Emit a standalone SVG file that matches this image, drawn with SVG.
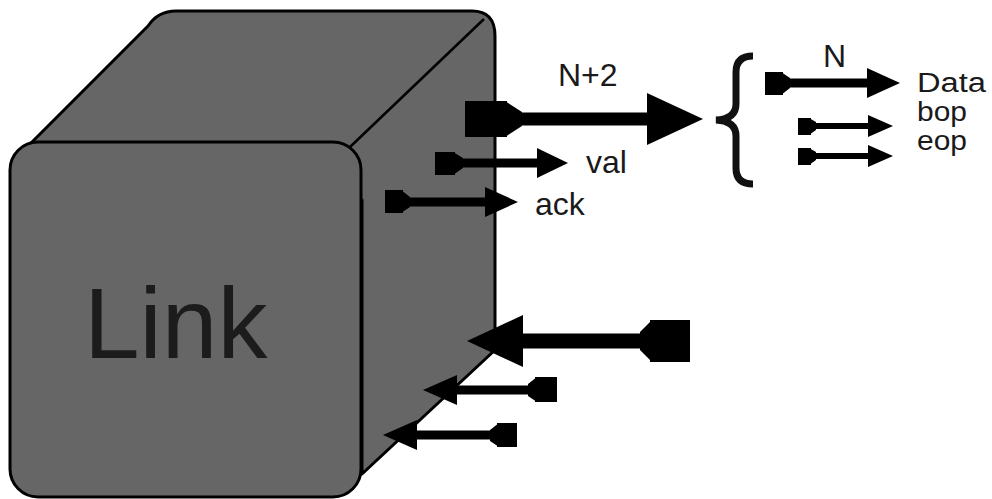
<svg xmlns="http://www.w3.org/2000/svg" width="992" height="499" viewBox="0 0 992 499">
<style>
.body{fill:#666666;stroke:#000;stroke-width:3;stroke-linejoin:round}
.edge{fill:none;stroke:#000;stroke-width:2.5}
.ink{fill:#000}
.wire{stroke:#000;fill:none}
.lbl{font-family:"Liberation Sans",Arial,sans-serif;font-size:32px;fill:#1a1a1a}
.sm{font-size:27px}
.big{font-family:"Liberation Sans",Arial,sans-serif;font-size:100px;fill:#1c1c1c}
</style>
<rect width="992" height="499" fill="#fff"/>
<g id="link">
<path class="body" d="M 24,150 L 148,26 Q 158,11 176,11 L 472,11 Q 495,11 495,36 L 495,350 L 362,474 L 362,200 Z"/>
<line class="edge" x1="350" y1="147" x2="484" y2="19"/>
<rect class="body" x="10" y="142" width="351" height="355" rx="28" ry="28"/>
<text class="big" x="84" y="358">Link</text>
</g>
<g id="connectors">
<g id="bus-out">
<rect class="ink" x="465" y="101" width="42" height="36"/>
<polygon class="ink" points="505,101 522,112 522,126 505,137"/>
<line class="wire" x1="520" y1="119" x2="650" y2="119" stroke-width="13"/>
<polygon class="ink" points="647,93 703,119 647,145"/>
</g>
<g id="val">
<rect class="ink" x="435" y="152" width="20" height="23"/>
<polygon class="ink" points="453,152 463,158 463,168 453,175"/>
<line class="wire" x1="460" y1="163" x2="540" y2="163" stroke-width="9"/>
<polygon class="ink" points="537,148 568,163 537,178"/>
</g>
<g id="ack">
<rect class="ink" x="385" y="190" width="18" height="23"/>
<polygon class="ink" points="401,190 410,197 410,207 401,213"/>
<line class="wire" x1="408" y1="202" x2="488" y2="202" stroke-width="9"/>
<polygon class="ink" points="485,187 518,202 485,217"/>
</g>
<g id="bus-in">
<rect class="ink" x="650" y="320" width="40" height="42"/>
<polygon class="ink" points="652,320 640,332 640,350 652,362"/>
<line class="wire" x1="520" y1="341" x2="645" y2="341" stroke-width="15"/>
<polygon class="ink" points="523,315 467,341 523,367"/>
</g>
<g id="in2">
<rect class="ink" x="535" y="377" width="22" height="25"/>
<polygon class="ink" points="537,377 528,384 528,396 537,402"/>
<line class="wire" x1="455" y1="390" x2="532" y2="390" stroke-width="9"/>
<polygon class="ink" points="457,375 423,390 457,405"/>
</g>
<g id="in3">
<rect class="ink" x="497" y="423" width="20" height="24"/>
<polygon class="ink" points="499,423 490,430 490,441 499,447"/>
<line class="wire" x1="415" y1="435" x2="494" y2="435" stroke-width="9"/>
<polygon class="ink" points="417,420 383,435 417,450"/>
</g>
<g id="brace">
<path d="M 753,56 Q 736,56 736,72 L 736,104 Q 736,119 716,120 Q 736,121 736,136 L 736,168 Q 736,184 753,184" fill="none" stroke="#111" stroke-width="7"/>
</g>
<g id="data">
<rect class="ink" x="765" y="72" width="18" height="23"/>
<polygon class="ink" points="781,72 790,78 790,88 781,95"/>
<line class="wire" x1="788" y1="83" x2="870" y2="83" stroke-width="9"/>
<polygon class="ink" points="867,68 900,83 867,98"/>
</g>
<g id="bop">
<rect class="ink" x="798" y="118" width="13" height="17"/>
<polygon class="ink" points="809,118 816,122 816,130 809,135"/>
<line class="wire" x1="814" y1="126" x2="870" y2="126" stroke-width="6"/>
<polygon class="ink" points="868,115 893,126 868,137"/>
</g>
<g id="eop">
<rect class="ink" x="798" y="148" width="13" height="17"/>
<polygon class="ink" points="809,148 816,152 816,160 809,165"/>
<line class="wire" x1="814" y1="156" x2="870" y2="156" stroke-width="6"/>
<polygon class="ink" points="868,145 893,156 868,167"/>
</g>
</g>
<g id="labels">
<text class="lbl" x="558" y="86">N+2</text>
<text class="lbl" x="586" y="173">val</text>
<text class="lbl" x="535" y="215">ack</text>
<text class="lbl" x="823" y="67">N</text>
<text class="lbl sm" x="917" y="92" textLength="69" lengthAdjust="spacingAndGlyphs">Data</text>
<text class="lbl sm" x="917" y="121" textLength="50" lengthAdjust="spacingAndGlyphs">bop</text>
<text class="lbl sm" x="917" y="150" textLength="50" lengthAdjust="spacingAndGlyphs">eop</text>
</g>
</svg>
